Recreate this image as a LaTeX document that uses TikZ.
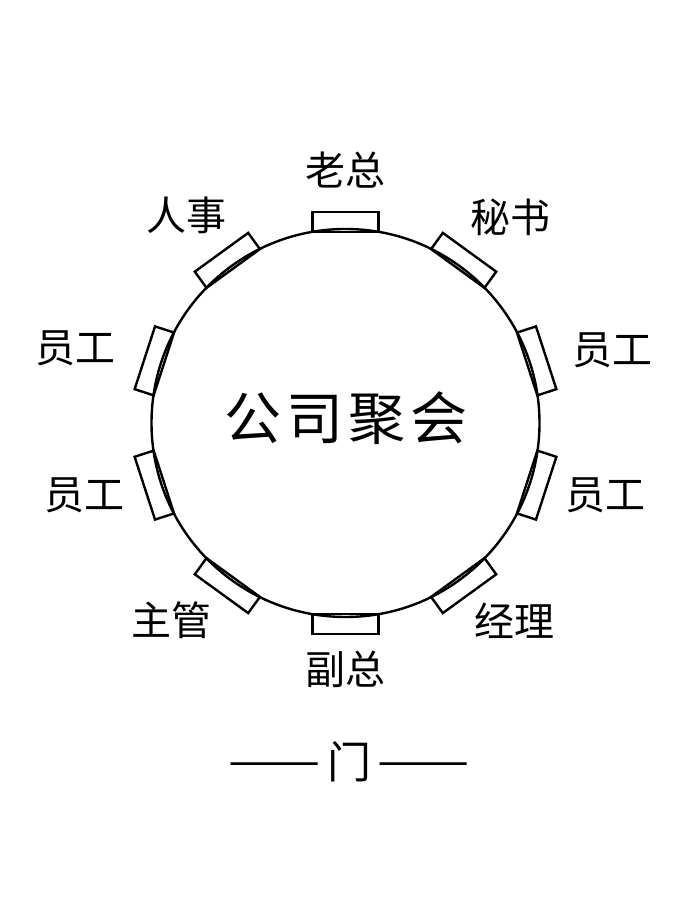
\documentclass[tikz,border=0pt]{standalone}
\usepackage{fontspec}
\newfontfamily\cjk{Noto Sans CJK SC}
\usetikzlibrary{calc}
\tikzset{
  chair/.style={draw, line width=2.4pt, fill=white, rectangle, minimum width=66pt, minimum height=20pt, inner sep=0pt},
  tablebox/.style={draw, line width=2.4pt, circle, minimum size=388pt, inner sep=0pt},
  seat/.style={font=\cjk\fontsize{40}{48}\selectfont, inner sep=0pt},
  title/.style={font=\cjk\fontsize{57}{66}\selectfont, inner sep=0pt},
  door/.style={font=\cjk\fontsize{44}{52}\selectfont, inner sep=0pt}
}
\newcommand{\twodash}{\raisebox{2pt}{\scalebox{1.25}[1]{——}}}
\begin{document}
\begin{tikzpicture}[x=1pt,y=1pt]
\fill[white] (0,0) rectangle (690,920);
\useasboundingbox (0,0) rectangle (690,920);
\coordinate (tc) at (345.5,497);
\foreach \a [count=\i] in {90,54,18,-18,-54,-90,-126,-162,162,126}{
  \node[chair, rotate=\a-90] (c\i) at ($(tc)+(\a:201pt)$) {};
}
\node[tablebox] (table) at (tc) {};
\node[title] (name) at (346,502) {公\hspace{5pt}司\hspace{5pt}聚\hspace{5pt}会};
\node[seat] (laozong) at (345,750) {老总};
\node[seat] (renshi) at (186,705) {人事};
\node[seat] (mishu) at (510,702.5) {秘书};
\node[seat] (yg1) at (75,572) {员工};
\node[seat] (yg2) at (612,570) {员工};
\node[seat] (yg3) at (84,425) {员工};
\node[seat] (yg4) at (605,425) {员工};
\node[seat] (zhuguan) at (171,300) {主管};
\node[seat] (jingli) at (514,299) {经理};
\node[seat] (fuzong) at (345,251) {副总};
\node[door] (men) at (349,158) {\twodash\hspace{6pt}门\hspace{6pt}\twodash};
\end{tikzpicture}
\end{document}
